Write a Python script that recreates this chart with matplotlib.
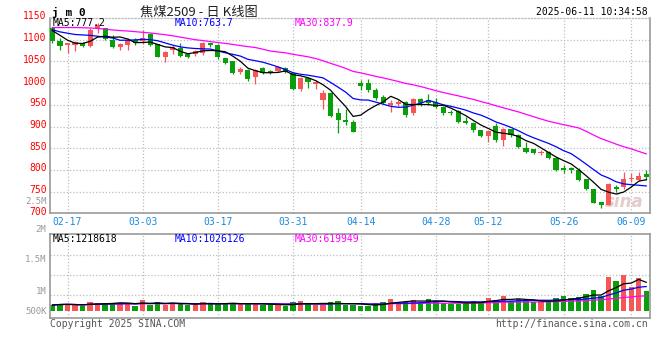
import numpy as np
import pandas as pd
import matplotlib
matplotlib.use('Agg')
import matplotlib.pyplot as plt

# jm0 daily K line, 2025-02-13 .. 2025-06-11
opens = [1127, 1096, 1088, 1088, 1092, 1086, 1124, 1126, 1099, 1084,
         1087, 1100, 1097, 1114, 1089, 1061, 1076, 1082, 1068, 1066,
         1069, 1092, 1088, 1057, 1051, 1026, 1030, 1015, 1034, 1028,
         1028, 1034, 1023, 986, 1011, 999, 960, 978, 932, 915,
         911, 1001, 1001, 984, 969, 950, 952, 956, 930, 963,
         961, 957, 946, 934, 936, 913, 909, 892, 877, 900,
         869, 894, 880, 850, 848, 838, 842, 827, 804, 804,
         800, 779, 756, 725, 719, 761, 761, 779, 777, 790]
highs = [1129, 1103, 1093, 1097, 1094, 1126, 1139, 1128, 1110, 1092,
         1103, 1103, 1123, 1115, 1090, 1074, 1087, 1093, 1070, 1076,
         1095, 1093, 1089, 1058, 1052, 1037, 1032, 1032, 1036, 1031,
         1040, 1036, 1025, 1013, 1013, 1007, 984, 980, 942, 940,
         914, 1007, 1009, 988, 972, 961, 962, 958, 965, 965,
         976, 965, 947, 938, 937, 922, 910, 893, 891, 907,
         896, 895, 882, 864, 849, 846, 843, 829, 812, 806,
         805, 780, 757, 727, 770, 766, 796, 792, 796, 800]
lows = [1092, 1076, 1069, 1075, 1083, 1084, 1115, 1100, 1080, 1077,
        1076, 1087, 1091, 1086, 1059, 1049, 1068, 1060, 1057, 1062,
        1065, 1084, 1055, 1045, 1022, 1021, 1005, 999, 1022, 1021,
        1026, 1024, 984, 982, 989, 986, 940, 922, 884, 904,
        887, 984, 980, 961, 951, 934, 948, 923, 927, 948,
        950, 942, 927, 926, 907, 905, 888, 875, 864, 864,
        855, 876, 850, 839, 837, 834, 825, 798, 792, 793,
        775, 754, 723, 712, 718, 748, 757, 772, 775, 777]
closes = [1098, 1085, 1092, 1095, 1086, 1123, 1134, 1102, 1083, 1089,
          1100, 1092, 1104, 1088, 1061, 1072, 1084, 1062, 1059, 1075,
          1092, 1088, 1059, 1047, 1024, 1033, 1009, 1030, 1024, 1024,
          1036, 1026, 987, 1011, 1002, 1003, 978, 924, 915, 911,
          888, 993, 984, 965, 953, 953, 957, 927, 963, 953,
          953, 946, 930, 930, 911, 907, 892, 877, 890, 869,
          894, 880, 852, 842, 838, 842, 827, 800, 800, 800,
          777, 756, 724, 719, 767, 756, 779, 781, 787, 784]
# volume in thousands of lots
volumes = [241, 284, 284, 241, 199, 369, 327, 327, 327, 327,
           327, 199, 454, 241, 369, 241, 327, 327, 241, 241,
           369, 284, 327, 284, 327, 284, 284, 327, 241, 241,
           241, 199, 369, 412, 284, 241, 241, 369, 412, 241,
           241, 199, 199, 327, 369, 497, 369, 369, 454, 369,
           497, 412, 327, 284, 284, 369, 412, 369, 540, 454,
           625, 412, 497, 412, 369, 369, 369, 540, 625, 540,
           582, 710, 880, 625, 1448, 1264, 1519, 1022, 1406, 838]

# moving-average values at the left edge (history before the window)
ma5_head = [1121, 1110, 1099, 1092]
ma10_head = [1123, 1118, 1115, 1112, 1111, 1110, 1108, 1106, 1104]
ma30_head = [1128, 1128, 1128, 1128, 1127.5, 1127, 1126, 1124, 1122.5, 1121,
             1120, 1118.5, 1117, 1115.5, 1113.5, 1111.5, 1109, 1106, 1103, 1100,
             1098, 1095.5, 1093.5, 1091.5, 1089, 1086.5, 1084, 1082, 1078]

tick_idx = [2, 12, 22, 32, 41, 51, 58, 68, 77]
tick_lab = ['02-17', '03-03', '03-17', '03-31', '04-14', '04-28', '05-12', '05-26', '06-09']
price_ticks = [700, 750, 800, 850, 900, 950, 1000, 1050, 1100, 1150]

price_lab = ['MA5:777.2', 'MA10:763.7', 'MA30:837.9']
vol_lab = ['MA5:1218618', 'MA10:1026126', 'MA30:619949']

RED = '#f65656'
GREEN = '#0a9e0a'
GRID = '#bdbdbd'
BORDER = '#999999'
MONO = 'DejaVu Sans Mono'
DOT = (0, (1, 1.6))

df = pd.DataFrame({'o': opens, 'h': highs, 'l': lows, 'c': closes, 'v': volumes})
df['v'] = df['v'] * 1000
n = len(df)
x = np.arange(n)

ma5 = df['c'].rolling(5).mean().to_numpy()
ma10 = df['c'].rolling(10).mean().to_numpy()
ma30 = df['c'].rolling(30).mean().to_numpy()
ma5[:4] = ma5_head
ma10[:9] = ma10_head
ma30[:29] = ma30_head
vma5 = df['v'].rolling(5, min_periods=1).mean()
vma10 = df['v'].rolling(10, min_periods=1).mean()
vma30 = df['v'].rolling(30, min_periods=1).mean()

up = df['c'] >= df['o']
cols = np.where(up, RED, GREEN)

W, H = 660, 360
fig = plt.figure(figsize=(6.6, 3.6), dpi=100)
fig.patch.set_facecolor('white')


def px(x0, y0, w, h):
    return [x0 / W, 1 - (y0 + h) / H, w / W, h / H]


ax1 = fig.add_axes(px(50, 18, 600, 195.3))
ax2 = fig.add_axes(px(50, 234.3, 600, 84))

xl = (-0.33, n - 1 + 0.5)

# ---- price panel
for yv in price_ticks[1:-1]:
    ax1.axhline(yv, color=GRID, lw=0.9, ls=DOT, zorder=0)
for t in tick_idx:
    ax1.axvline(t, color=GRID, lw=0.9, ls=DOT, zorder=0)

ax1.vlines(x, df['l'], df['h'], colors=cols, lw=0.9, zorder=2)
body = np.maximum((df['c'] - df['o']).abs(), 1.6)
ax1.bar(x, body, bottom=np.minimum(df['o'], df['c']), width=0.68,
        color=cols, zorder=3)

ax1.plot(x, ma30, color='#ff00ff', lw=0.9, zorder=4)
ax1.plot(x, ma10, color='#0000ff', lw=0.9, zorder=4)
ax1.plot(x, ma5, color='black', lw=0.9, zorder=4)

ax1.set_xlim(xl)
ax1.set_ylim(700, 1150)
ax1.set_yticks([])
# price labels sit a little above their grid lines, as in the Sina chart
for v in price_ticks:
    ax1.annotate(str(v), (0, v), xycoords=('axes fraction', 'data'),
                 xytext=(-3.5, 1.5), textcoords='offset pixels',
                 ha='right', va='center', color='red', fontsize=7, family=MONO,
                 annotation_clip=False)
ax1.set_xticks(tick_idx)
ax1.set_xticklabels(tick_lab, color='#1a8ae0', fontsize=7, family=MONO)
ax1.tick_params(length=0, pad=3)
for s in ['left', 'right', 'bottom']:
    ax1.spines[s].set_color(BORDER)
    ax1.spines[s].set_linewidth(1.2)
ax1.spines['top'].set_color(GRID)
ax1.spines['top'].set_linestyle(DOT)
ax1.spines['top'].set_linewidth(0.9)

ax1.text(0.99, 0.06, 'sina', transform=ax1.transAxes, ha='right', va='center',
         fontsize=12, fontweight='bold', style='italic', color='#e2cccc', zorder=1)

for lab, xx, c in zip(price_lab, [53, 175, 295], ['black', '#0000ff', '#ff00ff']):
    fig.text(xx / W, 1 - 23.5 / H, lab, color=c, fontsize=7, family=MONO, va='center')

# ---- volume panel
vlo, vhi = -324e3, 3.255e6
ax2.set_ylim(vlo, vhi)
for f in [0.274, 0.512, 0.75]:
    ax2.axhline(vlo + f * (vhi - vlo), color=GRID, lw=0.9, ls=DOT, zorder=0)
for t in tick_idx:
    ax2.axvline(t, color=GRID, lw=0.9, ls=DOT, zorder=0)
ax2.bar(x, df['v'], width=0.72, color=cols, zorder=2)
ax2.plot(x, vma30, color='#ff00ff', lw=0.9, zorder=3)
ax2.plot(x, vma10, color='#0000ff', lw=0.9, zorder=3)
ax2.plot(x, vma5, color='black', lw=0.9, zorder=3)
ax2.set_xlim(xl)
ax2.set_xticks([])
ax2.set_yticks([])
for s in ax2.spines.values():
    s.set_color(BORDER)
    s.set_linewidth(1.2)

for lab, xx, c in zip(vol_lab, [53, 175, 295], ['black', '#0000ff', '#ff00ff']):
    fig.text(xx / W, 1 - 239 / H, lab, color=c, fontsize=7, family=MONO, va='center')

for lab, yy in [('2.5M', 201), ('2M', 230), ('1.5M', 260), ('1M', 291), ('500K', 311)]:
    fig.text(46.5 / W, 1 - yy / H, lab, color='#999999', fontsize=6.5, family=MONO,
             ha='right', va='center')

# ---- header / footer
fig.text(52 / W, 1 - 12 / H, 'j m 0', fontsize=8, family=MONO, fontweight='bold',
         va='center')
fig.text(140 / W, 1 - 12 / H, '焦煤2509 - 日 K线图', fontsize=9.5,
         family=['Noto Sans CJK SC', 'DejaVu Sans'], va='center', color='#222222')
fig.text(648 / W, 1 - 12 / H, '2025-06-11 10:34:58', fontsize=7, family=MONO,
         ha='right', va='center')
fig.text(50 / W, 1 - 324 / H, 'Copyright 2025 SINA.COM', fontsize=7, family=MONO,
         va='center', color='#555555')
fig.text(648 / W, 1 - 324 / H, 'http://finance.sina.com.cn', fontsize=7, family=MONO,
         ha='right', va='center', color='#555555')

fig.savefig('out.png', dpi=100)
